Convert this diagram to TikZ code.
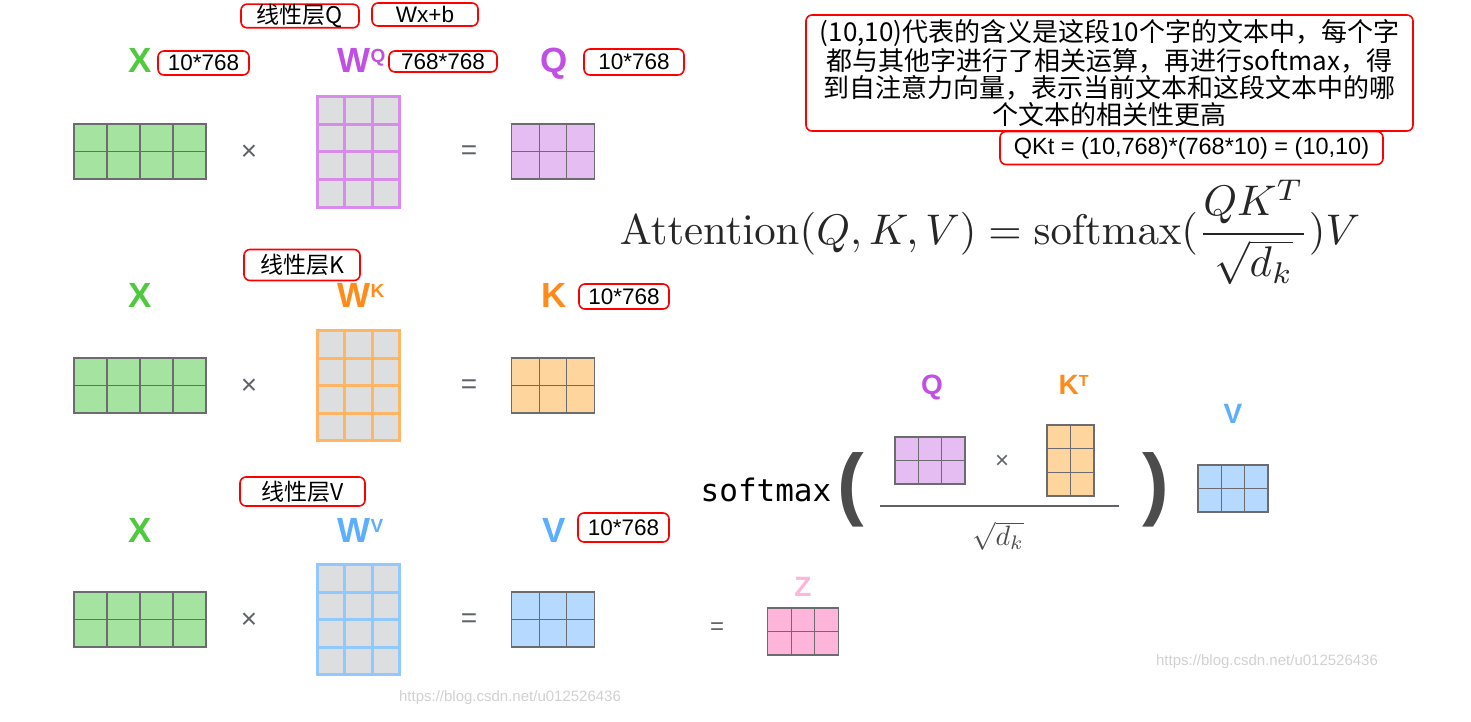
\documentclass[tikz,border=0pt]{standalone}
\usepackage[no-math]{fontspec}
\setmainfont{Liberation Sans}
\newfontfamily\cjk{Noto Sans CJK SC}
\newfontfamily\mono{DejaVu Sans Mono}
\usepackage{graphicx}
\usepackage{tikz}
\usetikzlibrary{calc}

\definecolor{xgreen}{HTML}{A4E4A0}
\definecolor{xlab}{HTML}{4FC93D}
\definecolor{qlab}{HTML}{C24FE3}
\definecolor{qline}{HTML}{D98BEC}
\definecolor{qfill}{HTML}{E6BDF3}
\definecolor{klab}{HTML}{FF8C1A}
\definecolor{kline}{HTML}{FFB563}
\definecolor{kfill}{HTML}{FFD59E}
\definecolor{vlab}{HTML}{5CAEFF}
\definecolor{vline}{HTML}{91C9FF}
\definecolor{vfill}{HTML}{B5D9FF}
\definecolor{zlab}{HTML}{FFB6DB}
\definecolor{zfill}{HTML}{FFB5D9}
\definecolor{wgray}{HTML}{DDDEE0}
\definecolor{edge}{HTML}{6B6B70}
\definecolor{opgray}{HTML}{5F6368}

\newcommand{\labfont}{\fontsize{35}{35}\selectfont\bfseries}
\newcommand{\smalllab}{\fontsize{28}{28}\selectfont\bfseries}
\newcommand{\notefont}{\fontsize{22.5}{24}\selectfont}
\newcommand{\cjknote}{\cjk\fontsize{23}{24}\selectfont}
\newcommand{\wsup}[1]{\raisebox{10pt}{\fontsize{19}{19}\selectfont #1}}
\newcommand{\ksup}[1]{\raisebox{8pt}{\fontsize{16}{16}\selectfont #1}}
% inner lines of a matrix
\newcommand{\colcut}[3]{\foreach \f in {#2}
  \draw[#3] ($(#1.north west)!\f!(#1.north east)$) -- ($(#1.south west)!\f!(#1.south east)$);}
\newcommand{\rowcut}[3]{\foreach \f in {#2}
  \draw[#3] ($(#1.north west)!\f!(#1.south west)$) -- ($(#1.north east)!\f!(#1.south east)$);}

\begin{document}
\begin{tikzpicture}[x=1pt,y=-1pt,
    mat/.style={draw=edge, line width=1.2pt, inner sep=0pt, outer sep=0pt, minimum height=55pt},
    wmat/.style={fill=wgray, line width=3pt, inner sep=0pt, outer sep=0pt, minimum width=82pt, minimum height=110pt},
    cut/.style={draw=edge, line width=1.2pt},
    note/.style={draw=red, line width=1.6pt, rounded corners=6pt, inner sep=0pt, font=\notefont},
    lab/.style={font=\labfont, anchor=base},
    lab2/.style={font=\smalllab, anchor=base},
    op/.style={text=opgray, font=\fontsize{28}{28}\selectfont},
    paren/.style={text=black!70, font=\fontsize{80}{80}\selectfont\bfseries},
    wmark/.style={text=black!18, font=\fontsize{15}{15}\selectfont}]
  \useasboundingbox (0,0) rectangle (1471,722);

  % Q row
  \node[note, font=\cjknote, minimum width=118pt, minimum height=22pt] (lq) at (300,16) {线性层Q};
  \node[note, minimum width=106pt, minimum height=23pt] (wxb) at (425,14.5) {Wx+b};
  \node[lab, text=xlab] (xl1) at (140,73) {X};
  \node[note, minimum width=91pt, minimum height=24pt] (n1) at (203.5,63) {10*768};
  \node[lab, text=qlab, anchor=base west] (wl1) at (334,73) {W\wsup{Q}};
  \node[note, minimum width=108pt, minimum height=21pt] (n2) at (443,61.5) {768*768};
  \node[lab, text=qlab] (ql1) at (554,73) {Q};
  \node[note, minimum width=100pt, minimum height=26pt] (n3) at (634,62) {10*768};
  \node[mat, fill=xgreen, minimum width=132pt] (x1) at (140,151.5) {};
  \node[op] (t1) at (249,153) {×};
  \node[wmat, draw=qline] (w1) at (358.5,152) {};
  \node[op] (e1) at (469,153) {=};
  \node[mat, fill=qfill, minimum width=83pt] (q1) at (553,151.5) {};
  \colcut{x1}{0.25,0.5,0.75}{cut} \rowcut{x1}{0.5}{cut}
  \colcut{w1}{0.333,0.667}{draw=qline, line width=3pt} \rowcut{w1}{0.25,0.5,0.75}{draw=qline, line width=3pt}
  \colcut{q1}{0.333,0.667}{cut} \rowcut{q1}{0.5}{cut}

  % K row
  \node[note, font=\cjknote, minimum width=116pt, minimum height=31pt] (lk) at (302,265) {线性层K};
  \node[lab, text=xlab] (xl2) at (140,307) {X};
  \node[lab, text=klab, anchor=base west] (wl2) at (334,307) {W\wsup{K}};
  \node[lab, text=klab] (kl2) at (554,307) {K};
  \node[note, minimum width=90pt, minimum height=25pt] (n4) at (624,296.5) {10*768};
  \node[mat, fill=xgreen, minimum width=132pt] (x2) at (140,385.5) {};
  \node[op] (t2) at (249,387) {×};
  \node[wmat, draw=kline] (w2) at (358.5,385.5) {};
  \node[op] (e2) at (469,387) {=};
  \node[mat, fill=kfill, minimum width=83pt] (k2) at (553,385.5) {};
  \colcut{x2}{0.25,0.5,0.75}{cut} \rowcut{x2}{0.5}{cut}
  \colcut{w2}{0.333,0.667}{draw=kline, line width=3pt} \rowcut{w2}{0.25,0.5,0.75}{draw=kline, line width=3pt}
  \colcut{k2}{0.333,0.667}{cut} \rowcut{k2}{0.5}{cut}

  % V row
  \node[note, font=\cjknote, minimum width=125pt, minimum height=29pt] (lv) at (302.5,491.5) {线性层V};
  \node[lab, text=xlab] (xl3) at (140,542) {X};
  \node[lab, text=vlab, anchor=base west] (wl3) at (334,542) {W\wsup{V}};
  \node[lab, text=vlab] (vl3) at (554,542) {V};
  \node[note, minimum width=91pt, minimum height=29pt] (n5) at (623.5,527.5) {10*768};
  \node[mat, fill=xgreen, minimum width=132pt] (x3) at (140,619.5) {};
  \node[op] (t3) at (249,621) {×};
  \node[wmat, draw=vline] (w3) at (358.5,619.5) {};
  \node[op] (e3) at (469,621) {=};
  \node[mat, fill=vfill, minimum width=83pt] (v3) at (553,619.5) {};
  \colcut{x3}{0.25,0.5,0.75}{cut} \rowcut{x3}{0.5}{cut}
  \colcut{w3}{0.333,0.667}{draw=vline, line width=3pt} \rowcut{w3}{0.25,0.5,0.75}{draw=vline, line width=3pt}
  \colcut{v3}{0.333,0.667}{cut} \rowcut{v3}{0.5}{cut}

  % notes and formula
  \node[note, font=\cjk\fontsize{26}{27}\selectfont, align=center, minimum width=607pt, minimum height=116pt] (desc) at (1109.5,73)
    {(10,10)代表的含义是这段10个字的文本中，每个字\\都与其他字进行了相关运算，再进行softmax，得\\到自注意力向量，表示当前文本和这段文本中的哪\\个文本的相关性更高};
  \node[note, font=\fontsize{23.5}{25}\selectfont, minimum width=383pt, minimum height=33pt] (qkt) at (1191.5,148) {QKt = (10,768)*(768*10) = (10,10)};
  \node[text=black!85, inner sep=0pt] (attn) at (990,232)
    {\resizebox{740pt}{!}{$\displaystyle\mathrm{Attention}(Q,K,V)=\mathrm{softmax}(\frac{QK^T}{\sqrt{d_k}})V$}};

  % softmax part
  \node[font=\mono\fontsize{31}{31}\selectfont] (sm) at (766,490) {softmax};
  \node[paren] (lp) at (851,490) {(};
  \node[paren] (rp) at (1156,490) {)};
  \node[lab2, text=qlab] (ql) at (932,394) {Q};
  \node[lab2, text=klab, anchor=base west] (kl) at (1055,394) {K\ksup{T}};
  \node[mat, fill=qfill, minimum width=70pt, minimum height=47pt] (qm) at (930,460.5) {};
  \node[op, font=\fontsize{24}{24}\selectfont] (tm) at (1002,462) {×};
  \node[mat, fill=kfill, minimum width=47pt, minimum height=71pt] (km) at (1070.5,460.5) {};
  \colcut{qm}{0.333,0.667}{cut} \rowcut{qm}{0.5}{cut}
  \colcut{km}{0.5}{cut} \rowcut{km}{0.333,0.667}{cut}
  \coordinate (fl) at (880,506);
  \coordinate (fr) at (1119,506);
  \draw[draw=opgray, line width=1.6pt] (fl) -- (fr);
  \node[text=black!70] (dk) at (998,536) {\scalebox{2.8}{$\sqrt{d_k}$}};
  \node[lab2, text=vlab] (vl) at (1233,423) {V};
  \node[mat, fill=vfill, minimum width=70pt, minimum height=47pt] (vm) at (1233,488.5) {};
  \colcut{vm}{0.333,0.667}{cut} \rowcut{vm}{0.5}{cut}
  \node[op, font=\fontsize{24}{24}\selectfont] (eq) at (717,629) {=};
  \node[lab2, text=zlab] (zl) at (803,596) {Z};
  \node[mat, fill=zfill, minimum width=71pt, minimum height=47pt] (zm) at (803,631.5) {};
  \colcut{zm}{0.333,0.667}{cut} \rowcut{zm}{0.5}{cut}

  \node[wmark] (wm1) at (510,698) {https://blog.csdn.net/u012526436};
  \node[wmark] (wm2) at (1267,662) {https://blog.csdn.net/u012526436};
\end{tikzpicture}
\end{document}
